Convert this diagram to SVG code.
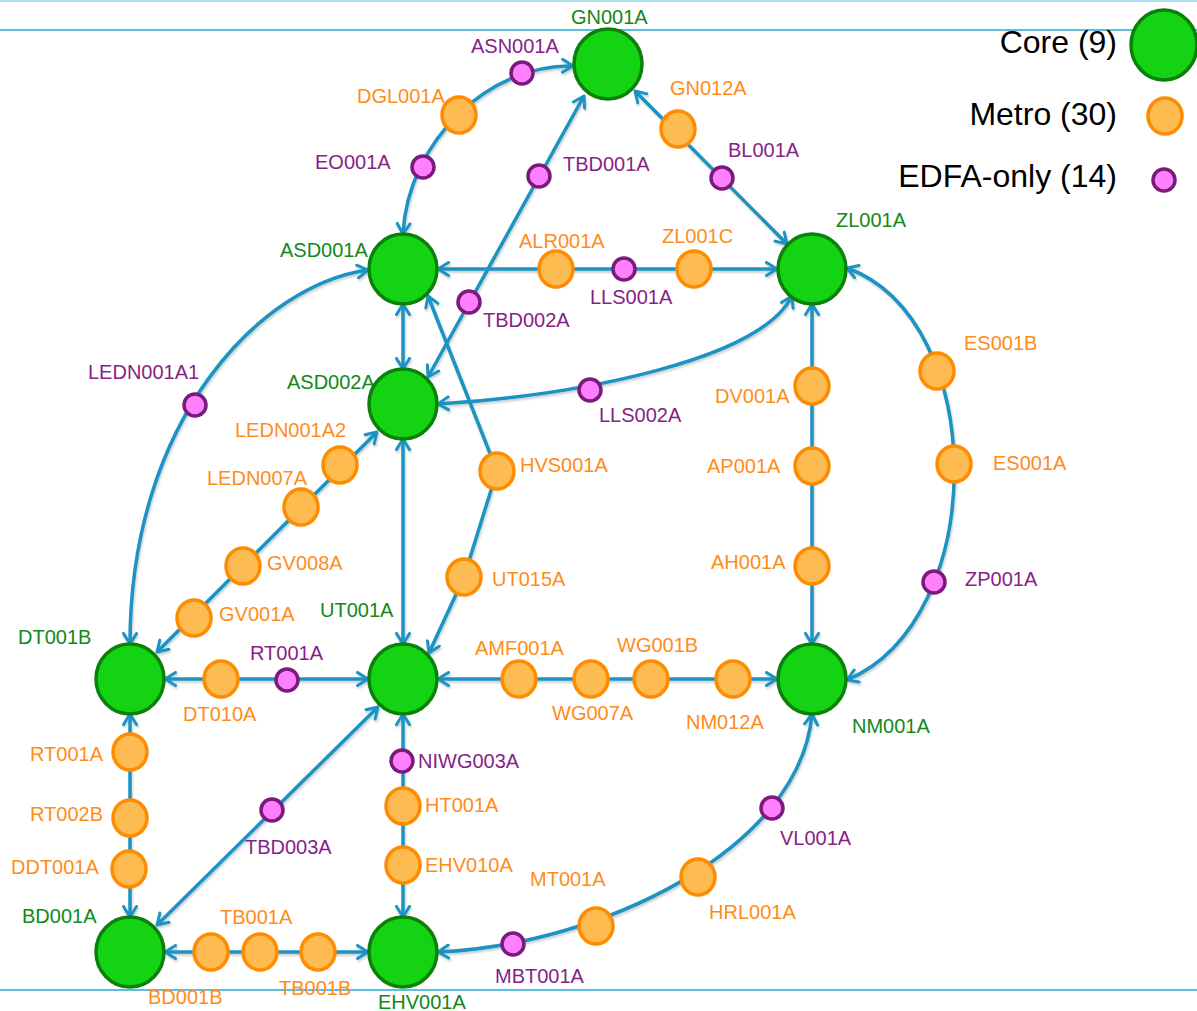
<svg xmlns="http://www.w3.org/2000/svg" width="1197" height="1011" viewBox="0 0 1197 1011">
<defs>
<style>
.core{fill:#13d313;stroke:#0b800b;stroke-width:3.5}
.metro{fill:#fdbb52;stroke:#ff8c00;stroke-width:3.5}
.edfa{fill:#ff80ff;stroke:#7a1a7a;stroke-width:3.5}
text{font-family:"Liberation Sans",Arial,sans-serif;font-size:20px}
.lc{fill:#12881a}
.lm{fill:#ff8c1a}
.le{fill:#861f86}
.leg{fill:#000;font-size:32px;text-anchor:end}
.e{fill:none;stroke:#1a93c3;stroke-width:3.5;marker-start:url(#arr);marker-end:url(#arr)}
.rule{stroke:#5bc0de;stroke-width:2}
</style>
<marker id="arr" viewBox="0 0 14 16" markerWidth="14" markerHeight="16" refX="12" refY="8" orient="auto-start-reverse" markerUnits="userSpaceOnUse">
<path d="M1.5,1.5 L12,8 L1.5,14.5" fill="none" stroke="#1a93c3" stroke-width="3" stroke-linecap="round" stroke-linejoin="round"/>
</marker>
<filter id="sh" x="-5%" y="-5%" width="110%" height="110%">
<feDropShadow dx="1" dy="2" stdDeviation="1.2" flood-color="#000" flood-opacity="0.2"/>
</filter>
</defs>
<rect width="1197" height="1011" fill="#fff"/>
<line x1="0" y1="1" x2="1197" y2="1" stroke="#8fd8ea" stroke-width="1.5"/>
<line class="rule" x1="0" y1="30" x2="1197" y2="30"/>
<line class="rule" x1="0" y1="990" x2="1197" y2="990"/>

<g id="connectors" filter="url(#sh)">
<path class="e" d="M403,234 C408,140 490,64 573,66"/>
<path class="e" d="M635,91 L787,244"/>
<path class="e" d="M584,96 L428,377"/>
<path class="e" d="M438,269 L777,269"/>
<path class="e" d="M403,304 L403,369"/>
<path class="e" d="M438,404 C580,395 760,360 792,296"/>
<path class="e" d="M368,270 C260,285 130,420 130,644"/>
<path class="e" d="M428,296 L497,471 L464,577 L429,653"/>
<path class="e" d="M403,439 L403,644"/>
<path class="e" d="M377,432 L157,652"/>
<path class="e" d="M812,304 L812,644"/>
<path class="e" d="M847,268 C990,320 990,620 847,680"/>
<path class="e" d="M165,679 L368,679"/>
<path class="e" d="M438,679 L777,679"/>
<path class="e" d="M130,714 L130,917"/>
<path class="e" d="M378,707 L157,925"/>
<path class="e" d="M403,714 L403,917"/>
<path class="e" d="M165,952 L368,952"/>
<path class="e" d="M438,952 C600,945 800,850 812,714"/>
</g>

<g id="legend">
<text class="leg" x="1117" y="53">Core (9)</text>
<text class="leg" x="1117" y="125">Metro (30)</text>
<text class="leg" x="1117" y="187">EDFA-only (14)</text>
<ellipse class="core" cx="1164" cy="45" rx="33" ry="35"/>
<ellipse class="metro" cx="1165" cy="116" rx="17" ry="18"/>
<circle class="edfa" cx="1164" cy="180" r="11"/>
</g>

<!-- core nodes -->
<g id="GN001A"><ellipse class="core" cx="608" cy="64" rx="34" ry="35"/><text class="lc" x="571" y="24">GN001A</text></g>
<g id="ASD001A"><ellipse class="core" cx="403" cy="269" rx="34" ry="35"/><text class="lc" x="280" y="257">ASD001A</text></g>
<g id="ZL001A"><ellipse class="core" cx="812" cy="269" rx="34" ry="35"/><text class="lc" x="836" y="227">ZL001A</text></g>
<g id="ASD002A"><ellipse class="core" cx="403" cy="404" rx="34" ry="35"/><text class="lc" x="287" y="389">ASD002A</text></g>
<g id="DT001B"><ellipse class="core" cx="130" cy="679" rx="34" ry="35"/><text class="lc" x="18" y="644">DT001B</text></g>
<g id="UT001A"><ellipse class="core" cx="403" cy="679" rx="34" ry="35"/><text class="lc" x="320" y="617">UT001A</text></g>
<g id="NM001A"><ellipse class="core" cx="812" cy="679" rx="34" ry="35"/><text class="lc" x="852" y="733">NM001A</text></g>
<g id="BD001A"><ellipse class="core" cx="130" cy="952" rx="34" ry="35"/><text class="lc" x="22" y="923">BD001A</text></g>
<g id="EHV001A"><ellipse class="core" cx="403" cy="952" rx="34" ry="35"/><text class="lc" x="378" y="1009">EHV001A</text></g>

<!-- metro nodes -->
<g id="DGL001A"><ellipse class="metro" cx="459" cy="115" rx="17" ry="18"/><text class="lm" x="357" y="103">DGL001A</text></g>
<g id="GN012A"><ellipse class="metro" cx="678" cy="129" rx="17" ry="18"/><text class="lm" x="670" y="95">GN012A</text></g>
<g id="ALR001A"><ellipse class="metro" cx="556" cy="269" rx="17" ry="18"/><text class="lm" x="519" y="248">ALR001A</text></g>
<g id="ZL001C"><ellipse class="metro" cx="694" cy="269" rx="17" ry="18"/><text class="lm" x="662" y="243">ZL001C</text></g>
<g id="ES001B"><ellipse class="metro" cx="937" cy="371" rx="17" ry="18"/><text class="lm" x="964" y="350">ES001B</text></g>
<g id="DV001A"><ellipse class="metro" cx="812" cy="386" rx="17" ry="18"/><text class="lm" x="715" y="403">DV001A</text></g>
<g id="ES001A"><ellipse class="metro" cx="954" cy="464" rx="17" ry="18"/><text class="lm" x="993" y="470">ES001A</text></g>
<g id="AP001A"><ellipse class="metro" cx="812" cy="466" rx="17" ry="18"/><text class="lm" x="707" y="473">AP001A</text></g>
<g id="LEDN001A2"><ellipse class="metro" cx="340" cy="465" rx="17" ry="18"/><text class="lm" x="235" y="437">LEDN001A2</text></g>
<g id="LEDN007A"><ellipse class="metro" cx="301" cy="507" rx="17" ry="18"/><text class="lm" x="207" y="485">LEDN007A</text></g>
<g id="HVS001A"><ellipse class="metro" cx="497" cy="471" rx="17" ry="18"/><text class="lm" x="520" y="472">HVS001A</text></g>
<g id="GV008A"><ellipse class="metro" cx="243" cy="566" rx="17" ry="18"/><text class="lm" x="267" y="570">GV008A</text></g>
<g id="AH001A"><ellipse class="metro" cx="812" cy="566" rx="17" ry="18"/><text class="lm" x="711" y="569">AH001A</text></g>
<g id="UT015A"><ellipse class="metro" cx="464" cy="577" rx="17" ry="18"/><text class="lm" x="492" y="586">UT015A</text></g>
<g id="GV001A"><ellipse class="metro" cx="194" cy="618" rx="17" ry="18"/><text class="lm" x="219" y="621">GV001A</text></g>
<g id="DT010A"><ellipse class="metro" cx="221" cy="679" rx="17" ry="18"/><text class="lm" x="183" y="721">DT010A</text></g>
<g id="AMF001A"><ellipse class="metro" cx="519" cy="679" rx="17" ry="18"/><text class="lm" x="475" y="655">AMF001A</text></g>
<g id="WG007A"><ellipse class="metro" cx="591" cy="679" rx="17" ry="18"/><text class="lm" x="552" y="720">WG007A</text></g>
<g id="WG001B"><ellipse class="metro" cx="651" cy="679" rx="17" ry="18"/><text class="lm" x="617" y="652">WG001B</text></g>
<g id="NM012A"><ellipse class="metro" cx="733" cy="679" rx="17" ry="18"/><text class="lm" x="686" y="729">NM012A</text></g>
<g id="RT001A-m"><ellipse class="metro" cx="130" cy="752" rx="17" ry="18"/><text class="lm" x="30" y="761">RT001A</text></g>
<g id="RT002B"><ellipse class="metro" cx="130" cy="818" rx="17" ry="18"/><text class="lm" x="30" y="821">RT002B</text></g>
<g id="HT001A"><ellipse class="metro" cx="403" cy="806" rx="17" ry="18"/><text class="lm" x="425" y="812">HT001A</text></g>
<g id="EHV010A"><ellipse class="metro" cx="403" cy="865" rx="17" ry="18"/><text class="lm" x="425" y="872">EHV010A</text></g>
<g id="DDT001A"><ellipse class="metro" cx="129" cy="869" rx="17" ry="18"/><text class="lm" x="11" y="874">DDT001A</text></g>
<g id="MT001A"><ellipse class="metro" cx="596" cy="926" rx="17" ry="18"/><text class="lm" x="530" y="886">MT001A</text></g>
<g id="HRL001A"><ellipse class="metro" cx="698" cy="877" rx="17" ry="18"/><text class="lm" x="709" y="919">HRL001A</text></g>
<g id="BD001B"><ellipse class="metro" cx="211" cy="952" rx="17" ry="18"/><text class="lm" x="148" y="1004">BD001B</text></g>
<g id="TB001A"><ellipse class="metro" cx="260" cy="952" rx="17" ry="18"/><text class="lm" x="220" y="924">TB001A</text></g>
<g id="TB001B"><ellipse class="metro" cx="318" cy="952" rx="17" ry="18"/><text class="lm" x="279" y="995">TB001B</text></g>

<!-- EDFA-only nodes -->
<g id="ASN001A"><circle class="edfa" cx="522" cy="73" r="11"/><text class="le" x="471" y="53">ASN001A</text></g>
<g id="EO001A"><circle class="edfa" cx="423" cy="167" r="11"/><text class="le" x="315" y="169">EO001A</text></g>
<g id="TBD001A"><circle class="edfa" cx="539" cy="176" r="11"/><text class="le" x="563" y="171">TBD001A</text></g>
<g id="BL001A"><circle class="edfa" cx="722" cy="178" r="11"/><text class="le" x="728" y="157">BL001A</text></g>
<g id="LLS001A"><circle class="edfa" cx="624" cy="269" r="11"/><text class="le" x="590" y="304">LLS001A</text></g>
<g id="TBD002A"><circle class="edfa" cx="469" cy="302" r="11"/><text class="le" x="483" y="327">TBD002A</text></g>
<g id="LEDN001A1"><circle class="edfa" cx="195" cy="405" r="11"/><text class="le" x="88" y="379">LEDN001A1</text></g>
<g id="LLS002A"><circle class="edfa" cx="590" cy="390" r="11"/><text class="le" x="599" y="422">LLS002A</text></g>
<g id="ZP001A"><circle class="edfa" cx="934" cy="582" r="11"/><text class="le" x="965" y="586">ZP001A</text></g>
<g id="RT001A-e"><circle class="edfa" cx="287" cy="680" r="11"/><text class="le" x="250" y="660">RT001A</text></g>
<g id="NIWG003A"><circle class="edfa" cx="402" cy="761" r="11"/><text class="le" x="418" y="768">NIWG003A</text></g>
<g id="TBD003A"><circle class="edfa" cx="272" cy="810" r="11"/><text class="le" x="245" y="854">TBD003A</text></g>
<g id="VL001A"><circle class="edfa" cx="772" cy="808" r="11"/><text class="le" x="780" y="845">VL001A</text></g>
<g id="MBT001A"><circle class="edfa" cx="513" cy="944" r="11"/><text class="le" x="495" y="983">MBT001A</text></g>
</svg>
